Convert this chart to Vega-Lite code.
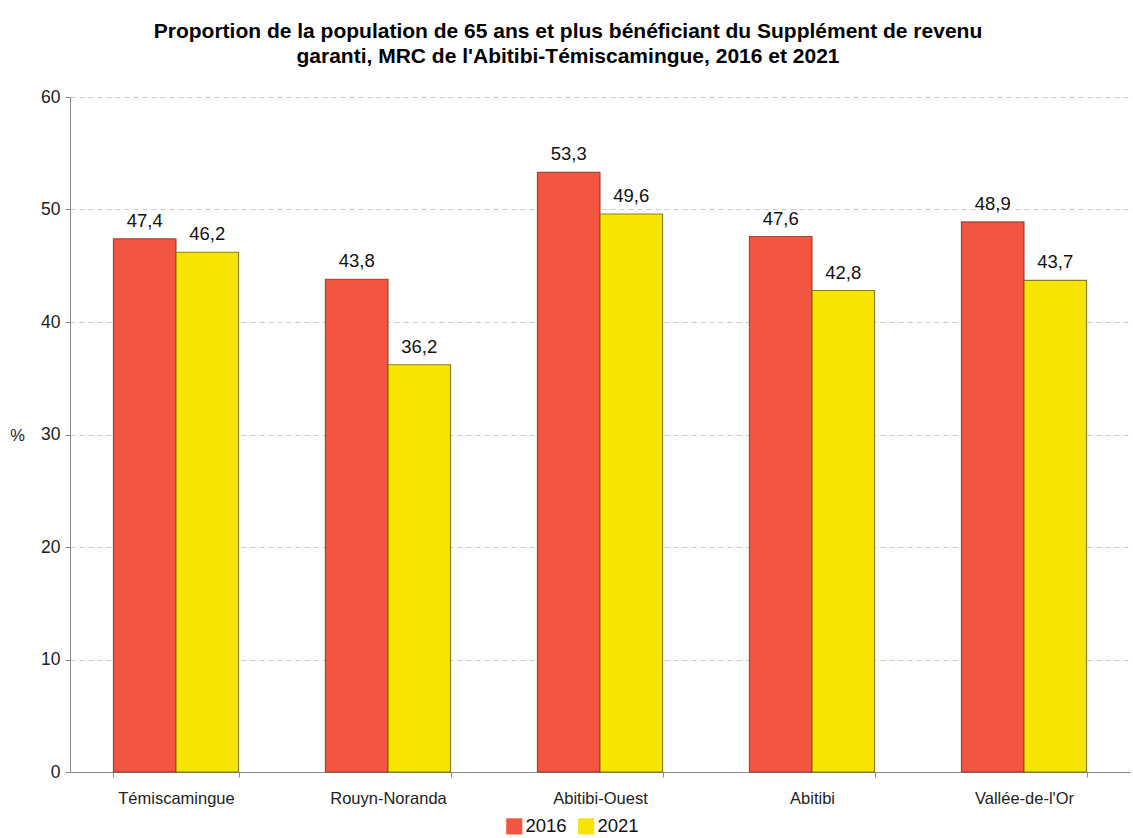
{
  "$schema": "https://vega.github.io/schema/vega-lite/v6.json",
  "autosize": "none",
  "width": 1060,
  "height": 675,
  "padding": {"left": 70, "top": 97, "right": 3, "bottom": 66},
  "background": "white",
  "config": {
    "locale": {"number": {"decimal": ",", "thousands": " ", "grouping": [3], "currency": ["", " €"]}},
    "font": "Liberation Sans",
    "view": {"stroke": null}
  },
  "title": {
    "text": ["Proportion de la population de 65 ans et plus bénéficiant du Supplément de revenu", "garanti, MRC de l'Abitibi-Témiscamingue, 2016 et 2021"],
    "fontSize": 21,
    "fontWeight": "bold",
    "font": "Liberation Sans",
    "color": "#000000",
    "lineHeight": 25,
    "anchor": "middle",
    "dx": -32,
    "offset": 21
  },
  "data": {
    "values": [
      {"mrc": "Témiscamingue", "annee": "2016", "valeur": 47.4},
      {"mrc": "Témiscamingue", "annee": "2021", "valeur": 46.2},
      {"mrc": "Rouyn-Noranda", "annee": "2016", "valeur": 43.8},
      {"mrc": "Rouyn-Noranda", "annee": "2021", "valeur": 36.2},
      {"mrc": "Abitibi-Ouest", "annee": "2016", "valeur": 53.3},
      {"mrc": "Abitibi-Ouest", "annee": "2021", "valeur": 49.6},
      {"mrc": "Abitibi", "annee": "2016", "valeur": 47.6},
      {"mrc": "Abitibi", "annee": "2021", "valeur": 42.8},
      {"mrc": "Vallée-de-l'Or", "annee": "2016", "valeur": 48.9},
      {"mrc": "Vallée-de-l'Or", "annee": "2021", "valeur": 43.7}
    ]
  },
  "encoding": {
    "x": {
      "field": "mrc",
      "type": "nominal",
      "sort": null,
      "scale": {"paddingInner": 0.41, "paddingOuter": 0.205},
      "axis": {
        "title": null,
        "labelAngle": 0,
        "labelFontSize": 16.5,
        "labelColor": "#222222",
        "labelPadding": 13,
        "domainColor": "#888888",
        "tickColor": "#888888",
        "tickBand": "extent",
        "tickSize": 5,
        "ticks": true
      }
    },
    "xOffset": {"field": "annee", "type": "nominal", "scale": {"paddingInner": 0, "paddingOuter": 0}},
    "y": {
      "field": "valeur",
      "type": "quantitative",
      "scale": {"domain": [0, 60], "nice": false},
      "axis": {
        "values": [0, 10, 20, 30, 40, 50, 60],
        "format": "d",
        "title": "%",
        "titleAngle": 0,
        "titleX": -53,
        "titleY": 346,
        "titleAlign": "center",
        "titleFontSize": 16.5,
        "titleFontWeight": "normal",
        "titleColor": "#222222",
        "labelFontSize": 17.5,
        "labelColor": "#222222",
        "labelPadding": 5,
        "domainColor": "#888888",
        "tickColor": "#888888",
        "tickSize": 5,
        "grid": true,
        "gridColor": "#cccccc",
        "gridDash": [5, 4],
        "gridWidth": 1
      }
    }
  },
  "layer": [
    {
      "mark": {"type": "bar", "strokeWidth": 1.2, "strokeOpacity": 0.8},
      "encoding": {
        "color": {
          "field": "annee",
          "type": "nominal",
          "scale": {"domain": ["2016", "2021"], "range": ["#F25540", "#F7E400"]},
          "legend": {
            "title": null,
            "orient": "none",
            "legendX": 435,
            "legendY": 720,
            "direction": "horizontal",
            "symbolType": "square",
            "symbolSize": 260,
            "symbolStrokeWidth": 0,
            "symbolOpacity": 1,
            "labelFontSize": 18.5,
            "labelColor": "#111111",
            "labelOffset": 2,
            "columnPadding": 10
          }
        },
        "stroke": {
          "field": "annee",
          "type": "nominal",
          "scale": {"domain": ["2016", "2021"], "range": ["#8A2E20", "#6E6400"]},
          "legend": null
        }
      }
    },
    {
      "mark": {"type": "text", "baseline": "bottom", "dy": -8, "fontSize": 18.5, "color": "#111111"},
      "encoding": {
        "text": {"field": "valeur", "type": "quantitative", "format": ".1f"}
      }
    }
  ]
}
